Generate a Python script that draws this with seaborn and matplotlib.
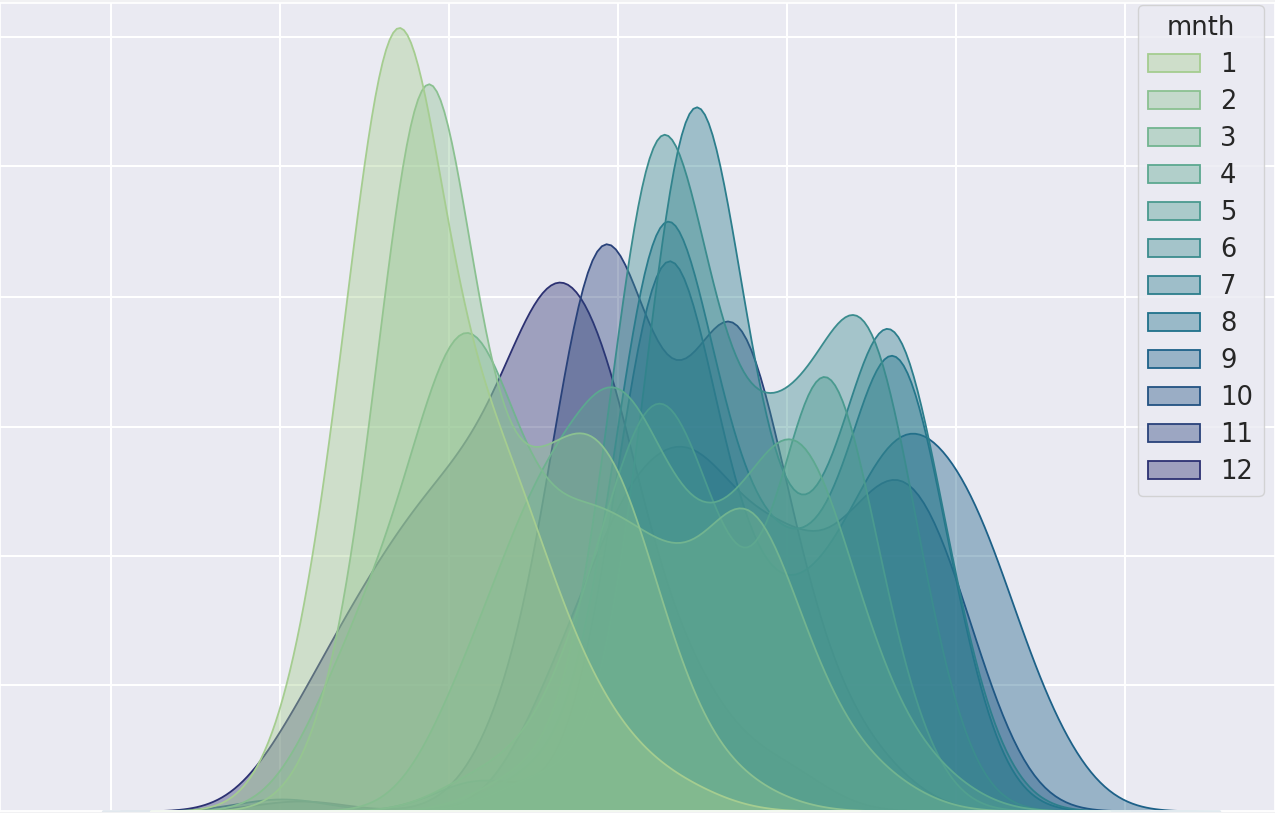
import numpy as np
import pandas as pd
import matplotlib
matplotlib.use("Agg")
import matplotlib.pyplot as plt
from matplotlib.ticker import MultipleLocator, FixedLocator
import seaborn as sns

# Daily bike rentals (cnt) grouped by month: representative counts and
# how many days sit around each count.
jan = [592, 1361, 1953, 2544, 3195, 3905, 4734]
jan_days = [150, 640, 130, 220, 110, 50, 20]
feb = [947, 1716, 2367, 3018, 3669, 4201, 4852, 5562]
feb_days = [100, 625, 120, 170, 200, 140, 40, 15]
mar = [710, 1420, 2154, 2840, 3669, 4497, 5503, 6272, 7100]
mar_days = [90, 150, 340, 170, 200, 170, 245, 80, 25]
apr = [2248, 3077, 3964, 4734, 5444, 6154, 6864, 7692]
apr_days = [100, 230, 310, 150, 150, 260, 100, 30]
may = [2367, 3314, 3905, 4497, 5207, 6390, 7100]
may_days = [30, 60, 120, 280, 140, 380, 100]
jun = [2840, 3905, 4473, 5207, 5976, 6864, 7455]
jun_days = [30, 100, 534, 200, 250, 365, 120]
jul = [3077, 4260, 4864, 5562, 6390, 7219, 7929]
jul_days = [30, 80, 580, 180, 150, 395, 100]
aug = [2959, 4024, 4544, 5325, 6154, 7195, 7810]
aug_days = [30, 100, 463, 180, 170, 368, 120]
sep = [2367, 4024, 4568, 5325, 6154, 6864, 7455, 8225, 8994]
sep_days = [30, 90, 440, 150, 120, 140, 225, 200, 60]
oct_ = [24, 3314, 4142, 4970, 5917, 6864, 7550, 8165]
oct_days = [12, 100, 220, 250, 200, 180, 195, 80]
nov = [237, 2840, 3728, 4497, 5384, 6154, 6982]
nov_days = [10, 80, 462, 205, 390, 120, 40]
dec = [237, 947, 1657, 2367, 3148, 3905, 4852, 5917]
dec_days = [60, 120, 170, 200, 345, 290, 100, 40]

months = [jan, feb, mar, apr, may, jun, jul, aug, sep, oct_, nov, dec]
days = [jan_days, feb_days, mar_days, apr_days, may_days, jun_days,
        jul_days, aug_days, sep_days, oct_days, nov_days, dec_days]

BW = 532  # kernel width in rentals, same for every month

rows = []
for m, (vals, w) in enumerate(zip(months, days), start=1):
    for v, d in zip(vals, w):
        rows.append({"mnth": m, "cnt": v, "days": d})
df = pd.DataFrame(rows)


def fixed_bw(kde):
    # gaussian_kde multiplies the factor by the data spread, undo that
    spread = np.sqrt(np.cov(kde.dataset, aweights=kde.weights))
    return BW / float(spread)


sns.set_theme(style="darkgrid")

fig = plt.figure(figsize=(12.75, 8.13), dpi=100, facecolor="#f1f1f3")
ax = fig.add_axes([0, 2 / 813, 1, 808 / 813])

sns.kdeplot(data=df, x="cnt", hue="mnth", weights="days", fill=True,
            alpha=0.4, linewidth=1.3, palette="crest", bw_method=fixed_bw,
            cut=4, legend="full", ax=ax)

# one weight unit at the top of an isolated bump
unit = 1 / (df["days"].sum() * BW * np.sqrt(2 * np.pi))
ax.set_xlim(-3314, 11775)
ax.set_ylim(0, 808 * unit)
ax.xaxis.set_major_locator(MultipleLocator(2000))
ax.yaxis.set_major_locator(FixedLocator(np.array([126, 255, 384, 514, 645, 774]) * unit))
ax.grid(linewidth=1.5)
ax.set(xlabel="", ylabel="")
ax.tick_params(labelbottom=False, labelleft=False, length=0)

sns.move_legend(ax, "upper right", bbox_to_anchor=(0.991, 0.998),
                borderaxespad=0, fontsize=18.5, title_fontsize=18.5,
                labelspacing=0.43)

fig.savefig("out.png", dpi=100)
